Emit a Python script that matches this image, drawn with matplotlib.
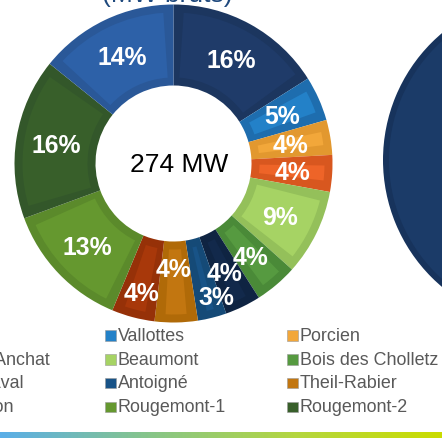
import matplotlib
matplotlib.use("Agg")
import matplotlib.pyplot as plt
import numpy as np
from matplotlib.patches import Wedge, Rectangle, Circle
from matplotlib.colors import LinearSegmentedColormap

plt.rcParams['font.family'] = ['Liberation Sans', 'DejaVu Sans']

# ---------------- data ----------------
farms = ["Séglien", "Vallottes", "Porcien", "Mont d'Anchat", "Beaumont",
         "Bois des Cholletz", "Mont Laval", "Antoigné", "Theil-Rabier",
         "Chambon", "Rougemont-1", "Rougemont-2", "Magny"]
capacity_mw = [44, 12.5, 9.75, 10.25, 24, 12, 10, 8, 12, 12, 36, 45, 39]
total_label = "274 MW"
title_text = "(MW bruts)"
other_chart_share = [100]

# ---------------- style ----------------
colors_band = ["#1C365F", "#1E6DAE", "#E2982F", "#D8571F", "#94C05A",
               "#4A8A38", "#0F2442", "#154A77", "#B06A08", "#963108",
               "#5B8A2B", "#33572A", "#2A5898"]
colors_inner = ["#1F3B69", "#2381C8", "#F2A73A", "#EE6428", "#A6D364",
                "#569A40", "#12294B", "#185387", "#C27610", "#A8380A",
                "#65982F", "#385F2A", "#2D61A8"]

W, H = 442, 438
fig = plt.figure(figsize=(W / 100, H / 100), dpi=100)
ax = fig.add_axes([0, 0, 1, 1])

cx, cy = 173.5, H - 163.5
R_out, ring_w = 159, 81
total = sum(capacity_mw)

wedges, _ = ax.pie(capacity_mw, colors=colors_band, startangle=90,
                   counterclock=False, center=(cx, cy), radius=R_out,
                   wedgeprops=dict(width=ring_w, linewidth=0))

# bevel-like inner panel on each segment
inset = 8
rmid = R_out - ring_w / 2
dth = np.degrees(inset / rmid)
for w, c in zip(wedges, colors_inner):
    ax.add_patch(Wedge((cx, cy), R_out - inset, w.theta1 + dth, w.theta2 - dth,
                       width=ring_w - 2 * inset, facecolor=c, linewidth=0))

# percentage labels
lab_fs = 17.8
cap_half = 0.716 * lab_fs * 100 / 72 / 2
label_r = [119] * len(capacity_mw)
label_dang = [0.0] * len(capacity_mw)
label_r[5], label_dang[5] = 120, -0.7
label_r[6], label_dang[6] = 120.5, -0.6
label_r[7], label_dang[7] = 139, 3.9
label_r[8], label_dang[8] = 104.5, -1.0
label_r[9], label_dang[9] = 133, 0.7
for i, (w, v) in enumerate(zip(wedges, capacity_mw)):
    ang = np.radians((w.theta1 + w.theta2) / 2 + label_dang[i])
    x = cx + label_r[i] * np.cos(ang)
    y = cy + label_r[i] * np.sin(ang)
    ax.text(x, y - cap_half, f"{round(100 * v / total)}%", ha='center',
            va='baseline', color='white', fontsize=lab_fs, fontweight='bold')

ax.text(179, H - 172, total_label, ha='center', va='baseline',
        fontsize=19, color='black')

# title (cut off at top)
ax.text(167.5, H - 2, title_text, ha='center', va='baseline',
        fontsize=19, color='#1F497D')

# neighbouring chart (cut off at right)
ax.pie(other_chart_share, colors=['#17335C'], center=(549, H - 160), radius=166,
       startangle=90, wedgeprops=dict(linewidth=0))
ax.add_patch(Circle((549, H - 160), 160, facecolor='#1B3B68', linewidth=0))

# legend (3 columns, row-major; first column cut at left)
col_x0, col_dx = -77, 182
base0, row_h = 340.7, 23.85
msz = 10.5
for i, (name, c) in enumerate(zip(farms, colors_inner)):
    row, col = divmod(i, 3)
    mx = col_x0 + col * col_dx
    by = base0 + row * row_h
    ax.add_patch(Rectangle((mx, H - by), msz, msz, facecolor=c,
                           edgecolor='#9a9a9a', linewidth=0.4))
    ax.text(mx + 12.7, H - by, name, ha='left', va='baseline',
            fontsize=12.9, color='#595959')

# gradient bar at bottom
cmap = LinearSegmentedColormap.from_list('bar', ['#5AAEE8', '#86C58A', '#B4D640', '#CADC00'])
ax.imshow(np.linspace(0, 1, 256)[None, :], extent=(0, W, 0, 6), cmap=cmap,
          aspect='auto', zorder=5)

ax.set_xlim(0, W)
ax.set_ylim(0, H)
ax.set_aspect('auto')
ax.axis('off')

fig.savefig('out.png', dpi=100)
